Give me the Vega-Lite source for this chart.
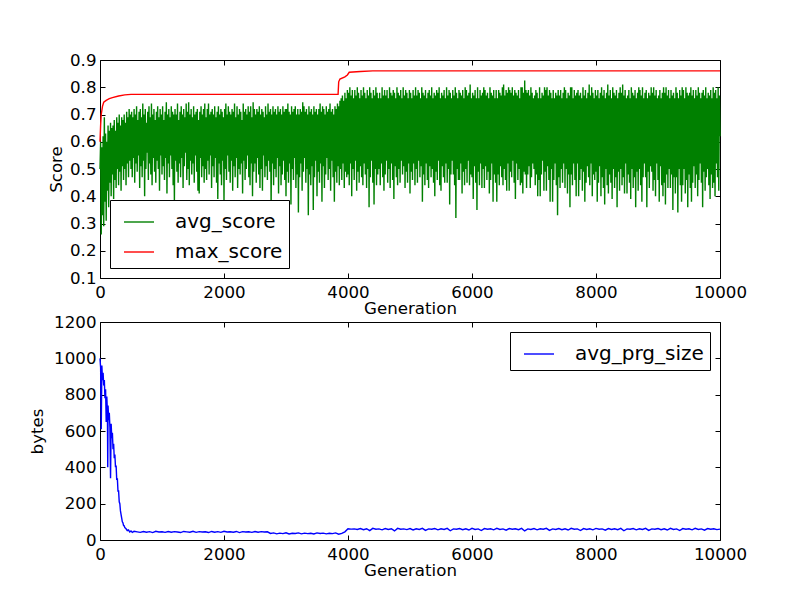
{
"$schema": "https://vega.github.io/schema/vega-lite/v6.json",
"padding": {"left": 29, "top": 52, "right": 5, "bottom": 5},
"background": "white",
"datasets": {
"max": [{"g":0,"v":0.60},{"g":10,"v":0.66},{"g":20,"v":0.70},{"g":40,"v":0.73},{"g":60,"v":0.745},{"g":100,"v":0.752},{"g":150,"v":0.758},{"g":200,"v":0.762},{"g":300,"v":0.768},{"g":400,"v":0.772},{"g":500,"v":0.774},{"g":3840,"v":0.774},{"g":3850,"v":0.82},{"g":3870,"v":0.83},{"g":3950,"v":0.838},{"g":3990,"v":0.845},{"g":4020,"v":0.855},{"g":4200,"v":0.858},{"g":4400,"v":0.86},{"g":10000,"v":0.86}],
"avg": [
{"g":0,"v":0.50},{"g":10,"v":0.60},{"g":20,"v":0.26},{"g":30,"v":0.58},{"g":40,"v":0.33},{"g":50,"v":0.62},{"g":60,"v":0.29},{"g":70,"v":0.69},{"g":80,"v":0.38},{"g":90,"v":0.63},
{"g":100,"v":0.31},{"g":110,"v":0.60},{"g":120,"v":0.42},{"g":130,"v":0.66},{"g":140,"v":0.36},{"g":150,"v":0.64},{"g":160,"v":0.45},{"g":170,"v":0.67},{"g":180,"v":0.40},{"g":190,"v":0.65},
{"g":200,"v":0.48},{"g":210,"v":0.66},{"g":220,"v":0.39},{"g":230,"v":0.68},{"g":240,"v":0.46},{"g":250,"v":0.64},{"g":260,"v":0.43},{"g":270,"v":0.69},{"g":280,"v":0.50},{"g":290,"v":0.67},
{"g":300,"v":0.44},{"g":310,"v":0.70},{"g":320,"v":0.49},{"g":330,"v":0.66},{"g":340,"v":0.42},{"g":350,"v":0.69},{"g":360,"v":0.51},{"g":370,"v":0.68},{"g":380,"v":0.46},{"g":390,"v":0.70},
{"g":400,"v":0.50},{"g":410,"v":0.67},{"g":420,"v":0.44},{"g":430,"v":0.71},{"g":440,"v":0.52},{"g":450,"v":0.69},{"g":460,"v":0.47},{"g":470,"v":0.72},{"g":480,"v":0.53},{"g":490,"v":0.70},
{"g":500,"v":0.50},{"g":510,"v":0.71},{"g":520,"v":0.47},{"g":530,"v":0.69},{"g":540,"v":0.54},{"g":550,"v":0.72},{"g":560,"v":0.45},{"g":570,"v":0.70},{"g":580,"v":0.52},{"g":590,"v":0.73},
{"g":600,"v":0.49},{"g":610,"v":0.68},{"g":620,"v":0.55},{"g":630,"v":0.71},{"g":640,"v":0.43},{"g":650,"v":0.72},{"g":660,"v":0.51},{"g":670,"v":0.69},{"g":680,"v":0.47},{"g":690,"v":0.74},
{"g":700,"v":0.53},{"g":710,"v":0.70},{"g":720,"v":0.40},{"g":730,"v":0.72},{"g":740,"v":0.50},{"g":750,"v":0.67},{"g":760,"v":0.56},{"g":770,"v":0.71},{"g":780,"v":0.46},{"g":790,"v":0.73},
{"g":800,"v":0.52},{"g":810,"v":0.69},{"g":820,"v":0.48},{"g":830,"v":0.74},{"g":840,"v":0.44},{"g":850,"v":0.70},{"g":860,"v":0.54},{"g":870,"v":0.72},{"g":880,"v":0.49},{"g":890,"v":0.68},
{"g":900,"v":0.45},{"g":910,"v":0.71},{"g":920,"v":0.53},{"g":930,"v":0.73},{"g":940,"v":0.50},{"g":950,"v":0.69},{"g":960,"v":0.42},{"g":970,"v":0.72},{"g":980,"v":0.55},{"g":990,"v":0.70},
{"g":1000,"v":0.48},{"g":1010,"v":0.73},{"g":1020,"v":0.51},{"g":1030,"v":0.68},{"g":1040,"v":0.46},{"g":1050,"v":0.71},{"g":1060,"v":0.54},{"g":1070,"v":0.745},{"g":1080,"v":0.41},{"g":1090,"v":0.70},
{"g":1100,"v":0.52},{"g":1110,"v":0.72},{"g":1120,"v":0.47},{"g":1130,"v":0.69},{"g":1140,"v":0.55},{"g":1150,"v":0.73},{"g":1160,"v":0.50},{"g":1170,"v":0.71},{"g":1180,"v":0.44},{"g":1190,"v":0.70},
{"g":1200,"v":0.38},{"g":1210,"v":0.72},{"g":1220,"v":0.53},{"g":1230,"v":0.70},{"g":1240,"v":0.49},{"g":1250,"v":0.74},{"g":1260,"v":0.45},{"g":1270,"v":0.68},{"g":1280,"v":0.52},{"g":1290,"v":0.71},
{"g":1300,"v":0.47},{"g":1310,"v":0.73},{"g":1320,"v":0.54},{"g":1330,"v":0.70},{"g":1340,"v":0.43},{"g":1350,"v":0.72},{"g":1360,"v":0.51},{"g":1370,"v":0.69},{"g":1380,"v":0.56},{"g":1390,"v":0.74},
{"g":1400,"v":0.46},{"g":1410,"v":0.71},{"g":1420,"v":0.50},{"g":1430,"v":0.745},{"g":1440,"v":0.44},{"g":1450,"v":0.70},{"g":1460,"v":0.53},{"g":1470,"v":0.72},{"g":1480,"v":0.48},{"g":1490,"v":0.69},
{"g":1500,"v":0.52},{"g":1510,"v":0.73},{"g":1520,"v":0.45},{"g":1530,"v":0.70},{"g":1540,"v":0.55},{"g":1550,"v":0.71},{"g":1560,"v":0.49},{"g":1570,"v":0.72},{"g":1580,"v":0.42},{"g":1590,"v":0.68},
{"g":1600,"v":0.41},{"g":1610,"v":0.71},{"g":1620,"v":0.54},{"g":1630,"v":0.73},{"g":1640,"v":0.47},{"g":1650,"v":0.70},{"g":1660,"v":0.51},{"g":1670,"v":0.72},{"g":1680,"v":0.45},{"g":1690,"v":0.74},
{"g":1700,"v":0.50},{"g":1710,"v":0.69},{"g":1720,"v":0.46},{"g":1730,"v":0.72},{"g":1740,"v":0.53},{"g":1750,"v":0.74},{"g":1760,"v":0.48},{"g":1770,"v":0.70},{"g":1780,"v":0.55},{"g":1790,"v":0.71},
{"g":1800,"v":0.43},{"g":1810,"v":0.72},{"g":1820,"v":0.51},{"g":1830,"v":0.70},{"g":1840,"v":0.47},{"g":1850,"v":0.73},{"g":1860,"v":0.54},{"g":1870,"v":0.69},{"g":1880,"v":0.45},{"g":1890,"v":0.71},
{"g":1900,"v":0.39},{"g":1910,"v":0.73},{"g":1920,"v":0.52},{"g":1930,"v":0.70},{"g":1940,"v":0.48},{"g":1950,"v":0.72},{"g":1960,"v":0.44},{"g":1970,"v":0.71},{"g":1980,"v":0.53},{"g":1990,"v":0.69},
{"g":2000,"v":0.38},{"g":2010,"v":0.72},{"g":2020,"v":0.50},{"g":2030,"v":0.74},{"g":2040,"v":0.46},{"g":2050,"v":0.70},{"g":2060,"v":0.55},{"g":2070,"v":0.73},{"g":2080,"v":0.49},{"g":2090,"v":0.71},
{"g":2100,"v":0.45},{"g":2110,"v":0.70},{"g":2120,"v":0.53},{"g":2130,"v":0.72},{"g":2140,"v":0.42},{"g":2150,"v":0.71},{"g":2160,"v":0.51},{"g":2170,"v":0.74},{"g":2180,"v":0.47},{"g":2190,"v":0.69},
{"g":2200,"v":0.54},{"g":2210,"v":0.73},{"g":2220,"v":0.43},{"g":2230,"v":0.70},{"g":2240,"v":0.50},{"g":2250,"v":0.72},{"g":2260,"v":0.48},{"g":2270,"v":0.71},{"g":2280,"v":0.52},{"g":2290,"v":0.68},
{"g":2300,"v":0.41},{"g":2310,"v":0.74},{"g":2320,"v":0.53},{"g":2330,"v":0.71},{"g":2340,"v":0.46},{"g":2350,"v":0.72},{"g":2360,"v":0.50},{"g":2370,"v":0.70},{"g":2380,"v":0.55},{"g":2390,"v":0.73},
{"g":2400,"v":0.47},{"g":2410,"v":0.71},{"g":2420,"v":0.44},{"g":2430,"v":0.73},{"g":2440,"v":0.52},{"g":2450,"v":0.69},{"g":2460,"v":0.40},{"g":2470,"v":0.745},{"g":2480,"v":0.49},{"g":2490,"v":0.72},
{"g":2500,"v":0.52},{"g":2510,"v":0.70},{"g":2520,"v":0.45},{"g":2530,"v":0.72},{"g":2540,"v":0.54},{"g":2550,"v":0.71},{"g":2560,"v":0.48},{"g":2570,"v":0.73},{"g":2580,"v":0.43},{"g":2590,"v":0.70},
{"g":2600,"v":0.50},{"g":2610,"v":0.72},{"g":2620,"v":0.42},{"g":2630,"v":0.71},{"g":2640,"v":0.55},{"g":2650,"v":0.69},{"g":2660,"v":0.47},{"g":2670,"v":0.73},{"g":2680,"v":0.51},{"g":2690,"v":0.70},
{"g":2700,"v":0.46},{"g":2710,"v":0.74},{"g":2720,"v":0.53},{"g":2730,"v":0.71},{"g":2740,"v":0.49},{"g":2750,"v":0.72},{"g":2760,"v":0.36},{"g":2770,"v":0.70},{"g":2780,"v":0.52},{"g":2790,"v":0.73},
{"g":2800,"v":0.44},{"g":2810,"v":0.71},{"g":2820,"v":0.50},{"g":2830,"v":0.72},{"g":2840,"v":0.47},{"g":2850,"v":0.70},{"g":2860,"v":0.54},{"g":2870,"v":0.73},{"g":2880,"v":0.41},{"g":2890,"v":0.71},
{"g":2900,"v":0.51},{"g":2910,"v":0.72},{"g":2920,"v":0.44},{"g":2930,"v":0.70},{"g":2940,"v":0.48},{"g":2950,"v":0.73},{"g":2960,"v":0.53},{"g":2970,"v":0.71},{"g":2980,"v":0.46},{"g":2990,"v":0.72},
{"g":3000,"v":0.40},{"g":3010,"v":0.72},{"g":3020,"v":0.49},{"g":3030,"v":0.74},{"g":3040,"v":0.45},{"g":3050,"v":0.71},{"g":3060,"v":0.52},{"g":3070,"v":0.70},{"g":3080,"v":0.37},{"g":3090,"v":0.73},
{"g":3100,"v":0.50},{"g":3110,"v":0.71},{"g":3120,"v":0.46},{"g":3130,"v":0.72},{"g":3140,"v":0.54},{"g":3150,"v":0.73},{"g":3160,"v":0.43},{"g":3170,"v":0.70},{"g":3180,"v":0.48},{"g":3190,"v":0.72},
{"g":3200,"v":0.34},{"g":3210,"v":0.70},{"g":3220,"v":0.47},{"g":3230,"v":0.72},{"g":3240,"v":0.52},{"g":3250,"v":0.71},{"g":3260,"v":0.42},{"g":3270,"v":0.745},{"g":3280,"v":0.49},{"g":3290,"v":0.73},
{"g":3300,"v":0.54},{"g":3310,"v":0.71},{"g":3320,"v":0.45},{"g":3330,"v":0.72},{"g":3340,"v":0.50},{"g":3350,"v":0.70},{"g":3360,"v":0.33},{"g":3370,"v":0.73},{"g":3380,"v":0.48},{"g":3390,"v":0.71},
{"g":3400,"v":0.44},{"g":3410,"v":0.72},{"g":3420,"v":0.51},{"g":3430,"v":0.70},{"g":3440,"v":0.35},{"g":3450,"v":0.73},{"g":3460,"v":0.47},{"g":3470,"v":0.71},{"g":3480,"v":0.53},{"g":3490,"v":0.72},
{"g":3500,"v":0.40},{"g":3510,"v":0.70},{"g":3520,"v":0.49},{"g":3530,"v":0.72},{"g":3540,"v":0.45},{"g":3550,"v":0.74},{"g":3560,"v":0.52},{"g":3570,"v":0.71},{"g":3580,"v":0.38},{"g":3590,"v":0.73},
{"g":3600,"v":0.51},{"g":3610,"v":0.72},{"g":3620,"v":0.43},{"g":3630,"v":0.70},{"g":3640,"v":0.48},{"g":3650,"v":0.73},{"g":3660,"v":0.54},{"g":3670,"v":0.71},{"g":3680,"v":0.46},{"g":3690,"v":0.72},
{"g":3700,"v":0.50},{"g":3710,"v":0.74},{"g":3720,"v":0.42},{"g":3730,"v":0.71},{"g":3740,"v":0.53},{"g":3750,"v":0.72},{"g":3760,"v":0.47},{"g":3770,"v":0.70},{"g":3780,"v":0.38},{"g":3790,"v":0.73},
{"g":3800,"v":0.49},{"g":3810,"v":0.72},{"g":3820,"v":0.45},{"g":3830,"v":0.74},{"g":3840,"v":0.51},{"g":3850,"v":0.73},{"g":3860,"v":0.44},{"g":3870,"v":0.75},{"g":3880,"v":0.50},{"g":3890,"v":0.76},
{"g":3900,"v":0.46},{"g":3910,"v":0.77},{"g":3920,"v":0.52},{"g":3930,"v":0.75},{"g":3940,"v":0.43},{"g":3950,"v":0.78},{"g":3960,"v":0.49},{"g":3970,"v":0.76},{"g":3980,"v":0.47},{"g":3990,"v":0.79},
{"g":4000,"v":0.48},{"g":4010,"v":0.78},{"g":4020,"v":0.44},{"g":4030,"v":0.80},{"g":4040,"v":0.52},{"g":4050,"v":0.77},{"g":4060,"v":0.40},{"g":4070,"v":0.79},{"g":4080,"v":0.50},{"g":4090,"v":0.76},
{"g":4100,"v":0.46},{"g":4110,"v":0.79},{"g":4120,"v":0.53},{"g":4130,"v":0.77},{"g":4140,"v":0.42},{"g":4150,"v":0.80},{"g":4160,"v":0.49},{"g":4170,"v":0.78},{"g":4180,"v":0.45},{"g":4190,"v":0.76},
{"g":4200,"v":0.51},{"g":4210,"v":0.79},{"g":4220,"v":0.47},{"g":4230,"v":0.77},{"g":4240,"v":0.44},{"g":4250,"v":0.80},{"g":4260,"v":0.52},{"g":4270,"v":0.78},{"g":4280,"v":0.48},{"g":4290,"v":0.76},
{"g":4300,"v":0.43},{"g":4310,"v":0.79},{"g":4320,"v":0.50},{"g":4330,"v":0.77},{"g":4340,"v":0.36},{"g":4350,"v":0.80},{"g":4360,"v":0.47},{"g":4370,"v":0.78},{"g":4380,"v":0.53},{"g":4390,"v":0.76},
{"g":4400,"v":0.45},{"g":4410,"v":0.79},{"g":4420,"v":0.37},{"g":4430,"v":0.77},{"g":4440,"v":0.50},{"g":4450,"v":0.80},{"g":4460,"v":0.44},{"g":4470,"v":0.78},{"g":4480,"v":0.48},{"g":4490,"v":0.76},
{"g":4500,"v":0.50},{"g":4510,"v":0.78},{"g":4520,"v":0.44},{"g":4530,"v":0.76},{"g":4540,"v":0.52},{"g":4550,"v":0.80},{"g":4560,"v":0.47},{"g":4570,"v":0.77},{"g":4580,"v":0.42},{"g":4590,"v":0.79},
{"g":4600,"v":0.48},{"g":4610,"v":0.77},{"g":4620,"v":0.53},{"g":4630,"v":0.79},{"g":4640,"v":0.45},{"g":4650,"v":0.76},{"g":4660,"v":0.50},{"g":4670,"v":0.80},{"g":4680,"v":0.43},{"g":4690,"v":0.78},
{"g":4700,"v":0.52},{"g":4710,"v":0.77},{"g":4720,"v":0.46},{"g":4730,"v":0.79},{"g":4740,"v":0.39},{"g":4750,"v":0.78},{"g":4760,"v":0.51},{"g":4770,"v":0.76},{"g":4780,"v":0.47},{"g":4790,"v":0.80},
{"g":4800,"v":0.44},{"g":4810,"v":0.78},{"g":4820,"v":0.50},{"g":4830,"v":0.77},{"g":4840,"v":0.45},{"g":4850,"v":0.79},{"g":4860,"v":0.53},{"g":4870,"v":0.76},{"g":4880,"v":0.48},{"g":4890,"v":0.80},
{"g":4900,"v":0.51},{"g":4910,"v":0.77},{"g":4920,"v":0.43},{"g":4930,"v":0.79},{"g":4940,"v":0.49},{"g":4950,"v":0.78},{"g":4960,"v":0.45},{"g":4970,"v":0.76},{"g":4980,"v":0.52},{"g":4990,"v":0.79},
{"g":5000,"v":0.41},{"g":5010,"v":0.78},{"g":5020,"v":0.49},{"g":5030,"v":0.76},{"g":5040,"v":0.46},{"g":5050,"v":0.79},{"g":5060,"v":0.52},{"g":5070,"v":0.77},{"g":5080,"v":0.44},{"g":5090,"v":0.80},
{"g":5100,"v":0.50},{"g":5110,"v":0.77},{"g":5120,"v":0.45},{"g":5130,"v":0.79},{"g":5140,"v":0.53},{"g":5150,"v":0.78},{"g":5160,"v":0.47},{"g":5170,"v":0.76},{"g":5180,"v":0.51},{"g":5190,"v":0.80},
{"g":5200,"v":0.38},{"g":5210,"v":0.78},{"g":5220,"v":0.48},{"g":5230,"v":0.77},{"g":5240,"v":0.44},{"g":5250,"v":0.79},{"g":5260,"v":0.52},{"g":5270,"v":0.76},{"g":5280,"v":0.46},{"g":5290,"v":0.78},
{"g":5300,"v":0.43},{"g":5310,"v":0.79},{"g":5320,"v":0.51},{"g":5330,"v":0.77},{"g":5340,"v":0.47},{"g":5350,"v":0.80},{"g":5360,"v":0.50},{"g":5370,"v":0.76},{"g":5380,"v":0.45},{"g":5390,"v":0.78},
{"g":5400,"v":0.40},{"g":5410,"v":0.77},{"g":5420,"v":0.49},{"g":5430,"v":0.79},{"g":5440,"v":0.46},{"g":5450,"v":0.78},{"g":5460,"v":0.53},{"g":5470,"v":0.80},{"g":5480,"v":0.44},{"g":5490,"v":0.76},
{"g":5500,"v":0.42},{"g":5510,"v":0.78},{"g":5520,"v":0.51},{"g":5530,"v":0.77},{"g":5540,"v":0.47},{"g":5550,"v":0.79},{"g":5560,"v":0.45},{"g":5570,"v":0.76},{"g":5580,"v":0.52},{"g":5590,"v":0.80},
{"g":5600,"v":0.45},{"g":5610,"v":0.77},{"g":5620,"v":0.50},{"g":5630,"v":0.79},{"g":5640,"v":0.37},{"g":5650,"v":0.78},{"g":5660,"v":0.48},{"g":5670,"v":0.76},{"g":5680,"v":0.53},{"g":5690,"v":0.79},
{"g":5700,"v":0.48},{"g":5710,"v":0.77},{"g":5720,"v":0.44},{"g":5730,"v":0.80},{"g":5740,"v":0.32},{"g":5750,"v":0.78},{"g":5760,"v":0.50},{"g":5770,"v":0.76},{"g":5780,"v":0.46},{"g":5790,"v":0.79},
{"g":5800,"v":0.46},{"g":5810,"v":0.78},{"g":5820,"v":0.52},{"g":5830,"v":0.77},{"g":5840,"v":0.41},{"g":5850,"v":0.79},{"g":5860,"v":0.49},{"g":5870,"v":0.76},{"g":5880,"v":0.44},{"g":5890,"v":0.80},
{"g":5900,"v":0.50},{"g":5910,"v":0.79},{"g":5920,"v":0.45},{"g":5930,"v":0.77},{"g":5940,"v":0.53},{"g":5950,"v":0.78},{"g":5960,"v":0.44},{"g":5970,"v":0.81},{"g":5980,"v":0.48},{"g":5990,"v":0.76},
{"g":6000,"v":0.47},{"g":6010,"v":0.78},{"g":6020,"v":0.39},{"g":6030,"v":0.77},{"g":6040,"v":0.51},{"g":6050,"v":0.79},{"g":6060,"v":0.45},{"g":6070,"v":0.76},{"g":6080,"v":0.35},{"g":6090,"v":0.80},
{"g":6100,"v":0.49},{"g":6110,"v":0.76},{"g":6120,"v":0.44},{"g":6130,"v":0.79},{"g":6140,"v":0.52},{"g":6150,"v":0.77},{"g":6160,"v":0.43},{"g":6170,"v":0.78},{"g":6180,"v":0.50},{"g":6190,"v":0.80},
{"g":6200,"v":0.43},{"g":6210,"v":0.79},{"g":6220,"v":0.51},{"g":6230,"v":0.77},{"g":6240,"v":0.46},{"g":6250,"v":0.78},{"g":6260,"v":0.49},{"g":6270,"v":0.76},{"g":6280,"v":0.41},{"g":6290,"v":0.80},
{"g":6300,"v":0.46},{"g":6310,"v":0.78},{"g":6320,"v":0.52},{"g":6330,"v":0.77},{"g":6340,"v":0.38},{"g":6350,"v":0.79},{"g":6360,"v":0.48},{"g":6370,"v":0.76},{"g":6380,"v":0.45},{"g":6390,"v":0.79},
{"g":6400,"v":0.38},{"g":6410,"v":0.76},{"g":6420,"v":0.48},{"g":6430,"v":0.79},{"g":6440,"v":0.44},{"g":6450,"v":0.78},{"g":6460,"v":0.51},{"g":6470,"v":0.77},{"g":6480,"v":0.47},{"g":6490,"v":0.80},
{"g":6500,"v":0.44},{"g":6510,"v":0.81},{"g":6520,"v":0.50},{"g":6530,"v":0.77},{"g":6540,"v":0.46},{"g":6550,"v":0.79},{"g":6560,"v":0.42},{"g":6570,"v":0.78},{"g":6580,"v":0.52},{"g":6590,"v":0.80},
{"g":6600,"v":0.42},{"g":6610,"v":0.79},{"g":6620,"v":0.49},{"g":6630,"v":0.78},{"g":6640,"v":0.47},{"g":6650,"v":0.80},{"g":6660,"v":0.53},{"g":6670,"v":0.77},{"g":6680,"v":0.45},{"g":6690,"v":0.79},
{"g":6700,"v":0.39},{"g":6710,"v":0.78},{"g":6720,"v":0.52},{"g":6730,"v":0.77},{"g":6740,"v":0.46},{"g":6750,"v":0.79},{"g":6760,"v":0.50},{"g":6770,"v":0.76},{"g":6780,"v":0.44},{"g":6790,"v":0.80},
{"g":6800,"v":0.45},{"g":6810,"v":0.80},{"g":6820,"v":0.41},{"g":6830,"v":0.78},{"g":6840,"v":0.49},{"g":6850,"v":0.825},{"g":6860,"v":0.48},{"g":6870,"v":0.79},{"g":6880,"v":0.43},{"g":6890,"v":0.78},
{"g":6900,"v":0.48},{"g":6910,"v":0.79},{"g":6920,"v":0.51},{"g":6930,"v":0.77},{"g":6940,"v":0.43},{"g":6950,"v":0.80},{"g":6960,"v":0.47},{"g":6970,"v":0.78},{"g":6980,"v":0.52},{"g":6990,"v":0.76},
{"g":7000,"v":0.50},{"g":7010,"v":0.77},{"g":7020,"v":0.44},{"g":7030,"v":0.79},{"g":7040,"v":0.48},{"g":7050,"v":0.78},{"g":7060,"v":0.40},{"g":7070,"v":0.76},{"g":7080,"v":0.46},{"g":7090,"v":0.80},
{"g":7100,"v":0.40},{"g":7110,"v":0.76},{"g":7120,"v":0.48},{"g":7130,"v":0.78},{"g":7140,"v":0.53},{"g":7150,"v":0.77},{"g":7160,"v":0.42},{"g":7170,"v":0.80},{"g":7180,"v":0.49},{"g":7190,"v":0.79},
{"g":7200,"v":0.42},{"g":7210,"v":0.80},{"g":7220,"v":0.51},{"g":7230,"v":0.77},{"g":7240,"v":0.46},{"g":7250,"v":0.79},{"g":7260,"v":0.38},{"g":7270,"v":0.78},{"g":7280,"v":0.50},{"g":7290,"v":0.76},
{"g":7300,"v":0.38},{"g":7310,"v":0.79},{"g":7320,"v":0.46},{"g":7330,"v":0.76},{"g":7340,"v":0.52},{"g":7350,"v":0.78},{"g":7360,"v":0.44},{"g":7370,"v":0.77},{"g":7380,"v":0.33},{"g":7390,"v":0.79},
{"g":7400,"v":0.47},{"g":7410,"v":0.77},{"g":7420,"v":0.43},{"g":7430,"v":0.79},{"g":7440,"v":0.50},{"g":7450,"v":0.76},{"g":7460,"v":0.45},{"g":7470,"v":0.78},{"g":7480,"v":0.52},{"g":7490,"v":0.80},
{"g":7500,"v":0.43},{"g":7510,"v":0.79},{"g":7520,"v":0.50},{"g":7530,"v":0.76},{"g":7540,"v":0.41},{"g":7550,"v":0.78},{"g":7560,"v":0.48},{"g":7570,"v":0.77},{"g":7580,"v":0.36},{"g":7590,"v":0.80},
{"g":7600,"v":0.48},{"g":7610,"v":0.80},{"g":7620,"v":0.44},{"g":7630,"v":0.76},{"g":7640,"v":0.52},{"g":7650,"v":0.79},{"g":7660,"v":0.46},{"g":7670,"v":0.77},{"g":7680,"v":0.40},{"g":7690,"v":0.78},
{"g":7700,"v":0.52},{"g":7710,"v":0.79},{"g":7720,"v":0.40},{"g":7730,"v":0.77},{"g":7740,"v":0.46},{"g":7750,"v":0.78},{"g":7760,"v":0.50},{"g":7770,"v":0.76},{"g":7780,"v":0.42},{"g":7790,"v":0.80},
{"g":7800,"v":0.49},{"g":7810,"v":0.77},{"g":7820,"v":0.38},{"g":7830,"v":0.79},{"g":7840,"v":0.45},{"g":7850,"v":0.76},{"g":7860,"v":0.51},{"g":7870,"v":0.78},{"g":7880,"v":0.47},{"g":7890,"v":0.81},
{"g":7900,"v":0.44},{"g":7910,"v":0.77},{"g":7920,"v":0.52},{"g":7930,"v":0.80},{"g":7940,"v":0.40},{"g":7950,"v":0.78},{"g":7960,"v":0.48},{"g":7970,"v":0.76},{"g":7980,"v":0.46},{"g":7990,"v":0.79},
{"g":8000,"v":0.49},{"g":8010,"v":0.77},{"g":8020,"v":0.38},{"g":8030,"v":0.79},{"g":8040,"v":0.45},{"g":8050,"v":0.76},{"g":8060,"v":0.51},{"g":8070,"v":0.78},{"g":8080,"v":0.40},{"g":8090,"v":0.80},
{"g":8100,"v":0.47},{"g":8110,"v":0.77},{"g":8120,"v":0.43},{"g":8130,"v":0.79},{"g":8140,"v":0.37},{"g":8150,"v":0.76},{"g":8160,"v":0.50},{"g":8170,"v":0.78},{"g":8180,"v":0.44},{"g":8190,"v":0.81},
{"g":8200,"v":0.41},{"g":8210,"v":0.77},{"g":8220,"v":0.48},{"g":8230,"v":0.79},{"g":8240,"v":0.45},{"g":8250,"v":0.76},{"g":8260,"v":0.39},{"g":8270,"v":0.80},{"g":8280,"v":0.50},{"g":8290,"v":0.78},
{"g":8300,"v":0.43},{"g":8310,"v":0.77},{"g":8320,"v":0.47},{"g":8330,"v":0.79},{"g":8340,"v":0.36},{"g":8350,"v":0.76},{"g":8360,"v":0.49},{"g":8370,"v":0.78},{"g":8380,"v":0.42},{"g":8390,"v":0.80},
{"g":8400,"v":0.50},{"g":8410,"v":0.78},{"g":8420,"v":0.44},{"g":8430,"v":0.81},{"g":8440,"v":0.47},{"g":8450,"v":0.77},{"g":8460,"v":0.41},{"g":8470,"v":0.79},{"g":8480,"v":0.52},{"g":8490,"v":0.76},
{"g":8500,"v":0.41},{"g":8510,"v":0.77},{"g":8520,"v":0.48},{"g":8530,"v":0.79},{"g":8540,"v":0.45},{"g":8550,"v":0.76},{"g":8560,"v":0.39},{"g":8570,"v":0.80},{"g":8580,"v":0.50},{"g":8590,"v":0.78},
{"g":8600,"v":0.43},{"g":8610,"v":0.77},{"g":8620,"v":0.47},{"g":8630,"v":0.79},{"g":8640,"v":0.36},{"g":8650,"v":0.76},{"g":8660,"v":0.49},{"g":8670,"v":0.78},{"g":8680,"v":0.42},{"g":8690,"v":0.80},
{"g":8700,"v":0.50},{"g":8710,"v":0.79},{"g":8720,"v":0.44},{"g":8730,"v":0.77},{"g":8740,"v":0.38},{"g":8750,"v":0.80},{"g":8760,"v":0.47},{"g":8770,"v":0.76},{"g":8780,"v":0.52},{"g":8790,"v":0.78},
{"g":8800,"v":0.47},{"g":8810,"v":0.79},{"g":8820,"v":0.36},{"g":8830,"v":0.76},{"g":8840,"v":0.49},{"g":8850,"v":0.78},{"g":8860,"v":0.43},{"g":8870,"v":0.77},{"g":8880,"v":0.51},{"g":8890,"v":0.80},
{"g":8900,"v":0.49},{"g":8910,"v":0.78},{"g":8920,"v":0.42},{"g":8930,"v":0.80},{"g":8940,"v":0.46},{"g":8950,"v":0.77},{"g":8960,"v":0.40},{"g":8970,"v":0.79},{"g":8980,"v":0.52},{"g":8990,"v":0.76},
{"g":9000,"v":0.46},{"g":9010,"v":0.77},{"g":9020,"v":0.38},{"g":9030,"v":0.79},{"g":9040,"v":0.51},{"g":9050,"v":0.76},{"g":9060,"v":0.44},{"g":9070,"v":0.78},{"g":9080,"v":0.40},{"g":9090,"v":0.80},
{"g":9100,"v":0.45},{"g":9110,"v":0.78},{"g":9120,"v":0.37},{"g":9130,"v":0.80},{"g":9140,"v":0.48},{"g":9150,"v":0.77},{"g":9160,"v":0.43},{"g":9170,"v":0.79},{"g":9180,"v":0.50},{"g":9190,"v":0.76},
{"g":9200,"v":0.43},{"g":9210,"v":0.79},{"g":9220,"v":0.48},{"g":9230,"v":0.77},{"g":9240,"v":0.35},{"g":9250,"v":0.78},{"g":9260,"v":0.47},{"g":9270,"v":0.76},{"g":9280,"v":0.41},{"g":9290,"v":0.80},
{"g":9300,"v":0.47},{"g":9310,"v":0.78},{"g":9320,"v":0.34},{"g":9330,"v":0.76},{"g":9340,"v":0.50},{"g":9350,"v":0.79},{"g":9360,"v":0.44},{"g":9370,"v":0.77},{"g":9380,"v":0.38},{"g":9390,"v":0.80},
{"g":9400,"v":0.44},{"g":9410,"v":0.79},{"g":9420,"v":0.50},{"g":9430,"v":0.76},{"g":9440,"v":0.41},{"g":9450,"v":0.80},{"g":9460,"v":0.46},{"g":9470,"v":0.78},{"g":9480,"v":0.36},{"g":9490,"v":0.77},
{"g":9500,"v":0.48},{"g":9510,"v":0.78},{"g":9520,"v":0.43},{"g":9530,"v":0.80},{"g":9540,"v":0.38},{"g":9550,"v":0.77},{"g":9560,"v":0.45},{"g":9570,"v":0.79},{"g":9580,"v":0.51},{"g":9590,"v":0.76},
{"g":9600,"v":0.43},{"g":9610,"v":0.79},{"g":9620,"v":0.48},{"g":9630,"v":0.77},{"g":9640,"v":0.40},{"g":9650,"v":0.80},{"g":9660,"v":0.46},{"g":9670,"v":0.78},{"g":9680,"v":0.52},{"g":9690,"v":0.76},
{"g":9700,"v":0.45},{"g":9710,"v":0.78},{"g":9720,"v":0.36},{"g":9730,"v":0.79},{"g":9740,"v":0.49},{"g":9750,"v":0.77},{"g":9760,"v":0.42},{"g":9770,"v":0.80},{"g":9780,"v":0.47},{"g":9790,"v":0.76},
{"g":9800,"v":0.50},{"g":9810,"v":0.78},{"g":9820,"v":0.44},{"g":9830,"v":0.77},{"g":9840,"v":0.39},{"g":9850,"v":0.79},{"g":9860,"v":0.48},{"g":9870,"v":0.76},{"g":9880,"v":0.43},{"g":9890,"v":0.80},
{"g":9900,"v":0.45},{"g":9910,"v":0.78},{"g":9920,"v":0.40},{"g":9930,"v":0.79},{"g":9940,"v":0.52},{"g":9950,"v":0.76},{"g":9960,"v":0.47},{"g":9970,"v":0.80},{"g":9980,"v":0.42},{"g":9990,"v":0.77},
{"g":10000,"v":0.62}
],
"prg": [
{"g":0,"b":1000},{"g":10,"b":950},{"g":20,"b":610},{"g":30,"b":960},{"g":40,"b":880},{"g":50,"b":920},{"g":60,"b":850},{"g":70,"b":880},{"g":80,"b":780},{"g":90,"b":830},{"g":100,"b":650},{"g":110,"b":790},{"g":120,"b":700},{"g":125,"b":400},{"g":130,"b":740},{"g":140,"b":660},{"g":150,"b":700},{"g":160,"b":620},{"g":170,"b":340},{"g":180,"b":640},{"g":190,"b":560},{"g":200,"b":590},{"g":210,"b":500},{"g":220,"b":530},{"g":230,"b":450},{"g":240,"b":470},{"g":250,"b":400},{"g":260,"b":410},{"g":270,"b":330},{"g":280,"b":340},{"g":290,"b":270},{"g":300,"b":270},{"g":310,"b":210},{"g":320,"b":200},{"g":330,"b":160},{"g":340,"b":140},{"g":350,"b":120},{"g":360,"b":100},{"g":370,"b":95},{"g":380,"b":80},{"g":390,"b":78},{"g":400,"b":68},{"g":420,"b":62},{"g":440,"b":52},{"g":460,"b":55},{"g":480,"b":44},{"g":500,"b":50},{"g":520,"b":42},{"g":550,"b":48},
{"g":600,"b":45},{"g":650,"b":42},{"g":700,"b":47},{"g":750,"b":43},{"g":800,"b":46},{"g":850,"b":41},{"g":900,"b":48},{"g":950,"b":44},{"g":1000,"b":45},{"g":1050,"b":42},{"g":1100,"b":47},{"g":1150,"b":43},{"g":1200,"b":46},{"g":1250,"b":44},{"g":1300,"b":41},{"g":1350,"b":47},{"g":1400,"b":45},{"g":1450,"b":43},{"g":1500,"b":48},{"g":1550,"b":42},{"g":1600,"b":46},{"g":1650,"b":44},{"g":1700,"b":45},{"g":1750,"b":41},{"g":1800,"b":47},{"g":1850,"b":43},{"g":1900,"b":46},{"g":1950,"b":42},{"g":2000,"b":48},{"g":2050,"b":44},{"g":2100,"b":45},{"g":2150,"b":43},{"g":2200,"b":47},{"g":2250,"b":41},{"g":2300,"b":46},{"g":2350,"b":44},{"g":2400,"b":45},{"g":2450,"b":42},{"g":2500,"b":47},{"g":2550,"b":43},{"g":2600,"b":46},{"g":2650,"b":44},{"g":2700,"b":45},
{"g":2750,"b":36},{"g":2800,"b":39},{"g":2850,"b":34},{"g":2900,"b":38},{"g":2950,"b":35},{"g":3000,"b":40},{"g":3050,"b":33},{"g":3100,"b":37},{"g":3150,"b":36},{"g":3200,"b":39},{"g":3250,"b":34},{"g":3300,"b":38},{"g":3350,"b":35},{"g":3400,"b":37},{"g":3450,"b":33},{"g":3500,"b":39},{"g":3550,"b":36},{"g":3600,"b":38},{"g":3650,"b":34},{"g":3700,"b":37},{"g":3750,"b":35},{"g":3800,"b":39},{"g":3850,"b":32},{"g":3900,"b":36},{"g":3950,"b":45},{"g":4000,"b":62},{"g":4050,"b":60},
{"g":4100,"b":61},{"g":4150,"b":58},{"g":4200,"b":63},{"g":4250,"b":57},{"g":4300,"b":62},{"g":4350,"b":52},{"g":4400,"b":64},{"g":4450,"b":59},{"g":4500,"b":61},{"g":4550,"b":56},{"g":4600,"b":63},{"g":4650,"b":58},{"g":4700,"b":62},{"g":4750,"b":50},{"g":4800,"b":64},{"g":4850,"b":59},{"g":4900,"b":61},{"g":4950,"b":57},{"g":5000,"b":63},{"g":5050,"b":55},{"g":5100,"b":62},{"g":5150,"b":58},{"g":5200,"b":64},{"g":5250,"b":53},{"g":5300,"b":61},{"g":5350,"b":59},{"g":5400,"b":63},{"g":5450,"b":56},{"g":5500,"b":62},{"g":5550,"b":58},{"g":5600,"b":64},{"g":5650,"b":51},{"g":5700,"b":61},{"g":5750,"b":59},{"g":5800,"b":63},{"g":5850,"b":57},{"g":5900,"b":62},{"g":5950,"b":55},{"g":6000,"b":64},{"g":6050,"b":58},{"g":6100,"b":61},{"g":6150,"b":52},{"g":6200,"b":63},{"g":6250,"b":59},{"g":6300,"b":62},{"g":6350,"b":56},{"g":6400,"b":64},{"g":6450,"b":58},{"g":6500,"b":61},{"g":6550,"b":54},{"g":6600,"b":63},{"g":6650,"b":59},{"g":6700,"b":62},{"g":6750,"b":57},{"g":6800,"b":64},{"g":6850,"b":50},{"g":6900,"b":61},{"g":6950,"b":58},{"g":7000,"b":63},{"g":7050,"b":56},{"g":7100,"b":62},{"g":7150,"b":59},{"g":7200,"b":64},{"g":7250,"b":53},{"g":7300,"b":61},{"g":7350,"b":58},{"g":7400,"b":63},{"g":7450,"b":57},{"g":7500,"b":62},{"g":7550,"b":55},{"g":7600,"b":64},{"g":7650,"b":59},{"g":7700,"b":61},{"g":7750,"b":52},{"g":7800,"b":63},{"g":7850,"b":58},{"g":7900,"b":62},{"g":7950,"b":56},{"g":8000,"b":64},{"g":8050,"b":59},{"g":8100,"b":61},{"g":8150,"b":54},{"g":8200,"b":63},{"g":8250,"b":58},{"g":8300,"b":62},{"g":8350,"b":57},{"g":8400,"b":64},{"g":8450,"b":51},{"g":8500,"b":61},{"g":8550,"b":59},{"g":8600,"b":63},{"g":8650,"b":56},{"g":8700,"b":62},{"g":8750,"b":58},{"g":8800,"b":64},{"g":8850,"b":53},{"g":8900,"b":61},{"g":8950,"b":59},{"g":9000,"b":63},{"g":9050,"b":57},{"g":9100,"b":62},{"g":9150,"b":55},{"g":9200,"b":64},{"g":9250,"b":58},{"g":9300,"b":61},{"g":9350,"b":52},{"g":9400,"b":63},{"g":9450,"b":59},{"g":9500,"b":62},{"g":9550,"b":56},{"g":9600,"b":64},{"g":9650,"b":58},{"g":9700,"b":61},{"g":9750,"b":54},{"g":9800,"b":63},{"g":9850,"b":59},{"g":9900,"b":62},{"g":9950,"b":57},{"g":10000,"b":60}
]
},
"vconcat": [
{
"width": 620, "height": 218,
"layer": [
{"data": {"name": "avg"},
 "mark": {"type": "line", "strokeWidth": 1.4},
 "encoding": {
  "x": {"field": "g", "type": "quantitative", "scale": {"domain": [0, 10000]}, "axis": {"orient": "bottom", "title": "Generation", "values": [0,2000,4000,6000,8000,10000], "format": "d", "titlePadding": 0}},
  "y": {"field": "v", "type": "quantitative", "scale": {"domain": [0.1, 0.9]}, "axis": {"orient": "left", "title": "Score", "values": [0.1,0.2,0.3,0.4,0.5,0.6,0.7,0.8,0.9], "format": ".1f", "titlePadding": 4}},
  "color": {"datum": "avg_score", "type": "nominal", "scale": {"domain": ["avg_score", "max_score"], "range": ["#008000", "#ff0000"]}, "legend": {"orient": "bottom-left", "offset": 10}}
 }},
{"data": {"name": "max"},
 "mark": {"type": "line", "strokeWidth": 1.4},
 "encoding": {
  "x": {"field": "g", "type": "quantitative", "axis": {"orient": "top", "title": null, "labels": false, "values": [0,2000,4000,6000,8000,10000]}},
  "y": {"field": "v", "type": "quantitative", "axis": {"orient": "right", "title": null, "labels": false, "values": [0.1,0.2,0.3,0.4,0.5,0.6,0.7,0.8,0.9]}},
  "color": {"datum": "max_score", "type": "nominal"}
 }}
],
"resolve": {"axis": {"x": "independent", "y": "independent"}}
},
{
"width": 620, "height": 218,
"layer": [
{"data": {"name": "prg"},
 "mark": {"type": "line", "strokeWidth": 1.4},
 "encoding": {
  "x": {"field": "g", "type": "quantitative", "scale": {"domain": [0, 10000]}, "axis": {"orient": "bottom", "title": "Generation", "values": [0,2000,4000,6000,8000,10000], "format": "d", "titlePadding": 0}},
  "y": {"field": "b", "type": "quantitative", "scale": {"domain": [0, 1200]}, "axis": {"orient": "left", "title": "bytes", "values": [0,200,400,600,800,1000,1200], "format": "d", "titlePadding": 7}},
  "color": {"datum": "avg_prg_size", "type": "nominal", "scale": {"domain": ["avg_prg_size"], "range": ["#0000ff"]}, "legend": {"orient": "top-right", "offset": 10}}
 }},
{"data": {"name": "prg"},
 "mark": {"type": "line", "opacity": 0},
 "encoding": {
  "x": {"field": "g", "type": "quantitative", "axis": {"orient": "top", "title": null, "labels": false, "values": [0,2000,4000,6000,8000,10000]}},
  "y": {"field": "b", "type": "quantitative", "axis": {"orient": "right", "title": null, "labels": false, "values": [0,200,400,600,800,1000,1200]}}
 }}
],
"resolve": {"axis": {"x": "independent", "y": "independent"}}
}
],
"resolve": {"scale": {"color": "independent"}, "legend": {"color": "independent"}},
"spacing": 44,
"bounds": "flush",
"config": {
 "font": "DejaVu Sans",
 "view": {"stroke": null},
 "axis": {"grid": false, "domainColor": "black", "tickColor": "black", "labelColor": "black", "titleColor": "black", "labelFontSize": 16.67, "titleFontSize": 16.67, "titleFontWeight": "normal", "tickSize": -5, "domainWidth": 1, "tickWidth": 1, "labelFlush": false, "labelOverlap": false, "labelFont": "DejaVu Sans", "titleFont": "DejaVu Sans"},
 "axisX": {"labelPadding": 11},
 "axisY": {"labelPadding": 9},
 "legend": {"title": null, "symbolType": "stroke", "symbolSize": 900, "symbolStrokeWidth": 1.4, "labelFontSize": 20, "labelFont": "DejaVu Sans", "labelColor": "black", "strokeColor": "black", "fillColor": "white", "padding": 6, "rowPadding": 4, "labelOffset": 20, "symbolOffset": 7, "cornerRadius": 0}
}
}
